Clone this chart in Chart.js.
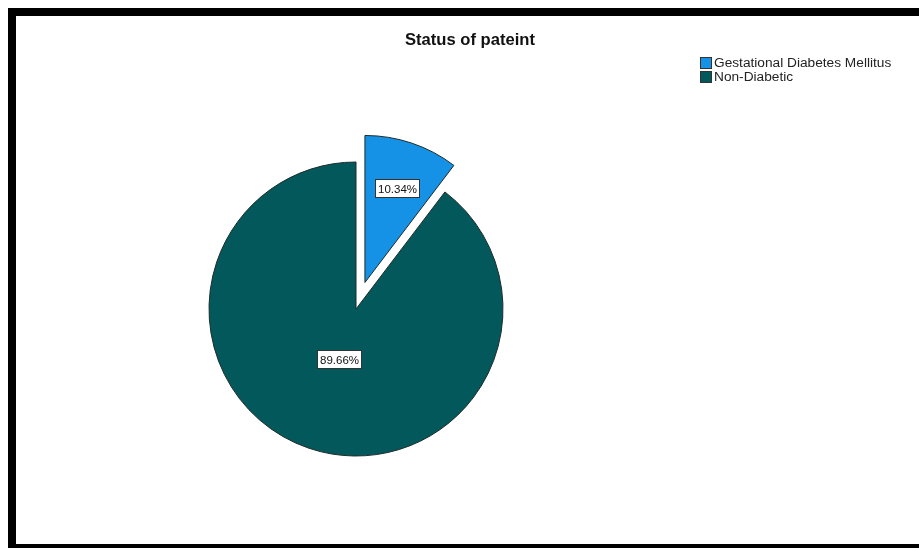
<!DOCTYPE html>
<html lang="en">

<head>
  <meta charset="UTF-8">
  <title>Status of pateint</title>
  <script src="https://cdn.jsdelivr.net/npm/chart.js"></script>
  <style>
    body {
      margin: 0;
      background: #fff;
      font-family: "Liberation Sans", Arial, sans-serif;
    }

    .page {
      position: relative;
      width: 919px;
      height: 548px;
      overflow: hidden;
    }

    #pieChart {
      position: absolute;
      left: 0;
      top: 0;
    }

    .frame {
      position: absolute;
      left: 8px;
      top: 8px;
      width: 930px;
      height: 528px;
      border-top: 8px solid #000;
      border-left: 8px solid #000;
      border-bottom: 8px solid #000;
      pointer-events: none;
    }

    .title {
      position: absolute;
      left: 370px;
      width: 200px;
      top: 30px;
      text-align: center;
      font-weight: bold;
      font-size: 16.6px;
      line-height: 19px;
      color: #111;
    }

    .legend {
      position: absolute;
      left: 700px;
      top: 56px;
      font-size: 13.7px;
      line-height: 14px;
      color: #222;
    }

    .legend div {
      display: flex;
      align-items: center;
      white-space: nowrap;
    }

    .legend span.box {
      display: inline-block;
      width: 10px;
      height: 10px;
      border: 1px solid #333;
      margin-right: 2px;
    }
  </style>
</head>

<body>
  <div class="page">
    <canvas id="pieChart" width="919" height="548"></canvas>
    <div class="frame"></div>
    <div class="title">Status of pateint</div>
    <div class="legend" id="legend"></div>
  </div>

  <script>
    const categories = ['Gestational Diabetes Mellitus', 'Non-Diabetic'];
    const percents = [10.34, 89.66];
    const sliceColors = ['#1592e6', '#02585a'];
    const explodeBy = [28, 0];

    // legend built from the same arrays
    const legendEl = document.getElementById('legend');
    categories.forEach((name, i) => {
      legendEl.innerHTML += `<div><span class="box" style="background:${sliceColors[i]}"></span>${name}</div>`;
    });

    // pull a slice out along its middle angle
    const explodePlugin = {
      id: 'explode',
      afterDatasetUpdate(chart, args, opts) {
        args.meta.data.forEach((arc, i) => {
          const d = (opts.distances || [])[i] || 0;
          if (!d) return;
          const mid = (arc.startAngle + arc.endAngle) / 2;
          arc.x += Math.cos(mid) * d;
          arc.y += Math.sin(mid) * d;
        });
      }
    };

    // boxed percentage labels
    const pctLabels = {
      id: 'pctLabels',
      afterDatasetsDraw(chart, args, opts) {
        const ctx = chart.ctx;
        const meta = chart.getDatasetMeta(0);
        ctx.save();
        ctx.font = opts.font;
        ctx.textAlign = 'center';
        ctx.textBaseline = 'middle';
        meta.data.forEach((arc, i) => {
          const mid = (arc.startAngle + arc.endAngle) / 2;
          const r = arc.outerRadius * opts.radii[i];
          const x = arc.x + Math.cos(mid) * r;
          const y = arc.y + Math.sin(mid) * r;
          const text = percents[i].toFixed(2) + '%';
          const w = Math.round(ctx.measureText(text).width + 5);
          const h = 18;
          const bx = Math.round(x - w / 2) + 0.5;
          const by = Math.round(y - h / 2) + 0.5;
          ctx.fillStyle = '#fff';
          ctx.fillRect(bx, by, w, h);
          ctx.strokeStyle = '#333';
          ctx.lineWidth = 1;
          ctx.strokeRect(bx, by, w, h);
          ctx.fillStyle = '#111';
          ctx.fillText(text, bx + w / 2, by + h / 2 + 1);
        });
        ctx.restore();
      }
    };

    const ctx = document.getElementById('pieChart').getContext('2d');
    const pieChart = new Chart(ctx, {
      type: 'pie',
      data: {
        labels: categories,
        datasets: [{
          data: percents,
          backgroundColor: sliceColors,
          borderColor: '#1d2b2b',
          borderWidth: 1,
          radius: 147
        }]
      },
      options: {
        responsive: false,
        animation: false,
        events: [],
        layout: {
          padding: { left: 0, right: 207, top: 70, bottom: 0 }
        },
        plugins: {
          legend: { display: false },
          title: { display: false },
          tooltip: { enabled: false },
          explode: { distances: explodeBy },
          pctLabels: {
            font: '11.5px "Liberation Sans", Arial, sans-serif',
            radii: [0.68, 0.36]
          }
        }
      },
      plugins: [explodePlugin, pctLabels]
    });
  </script>
</body>

</html>
